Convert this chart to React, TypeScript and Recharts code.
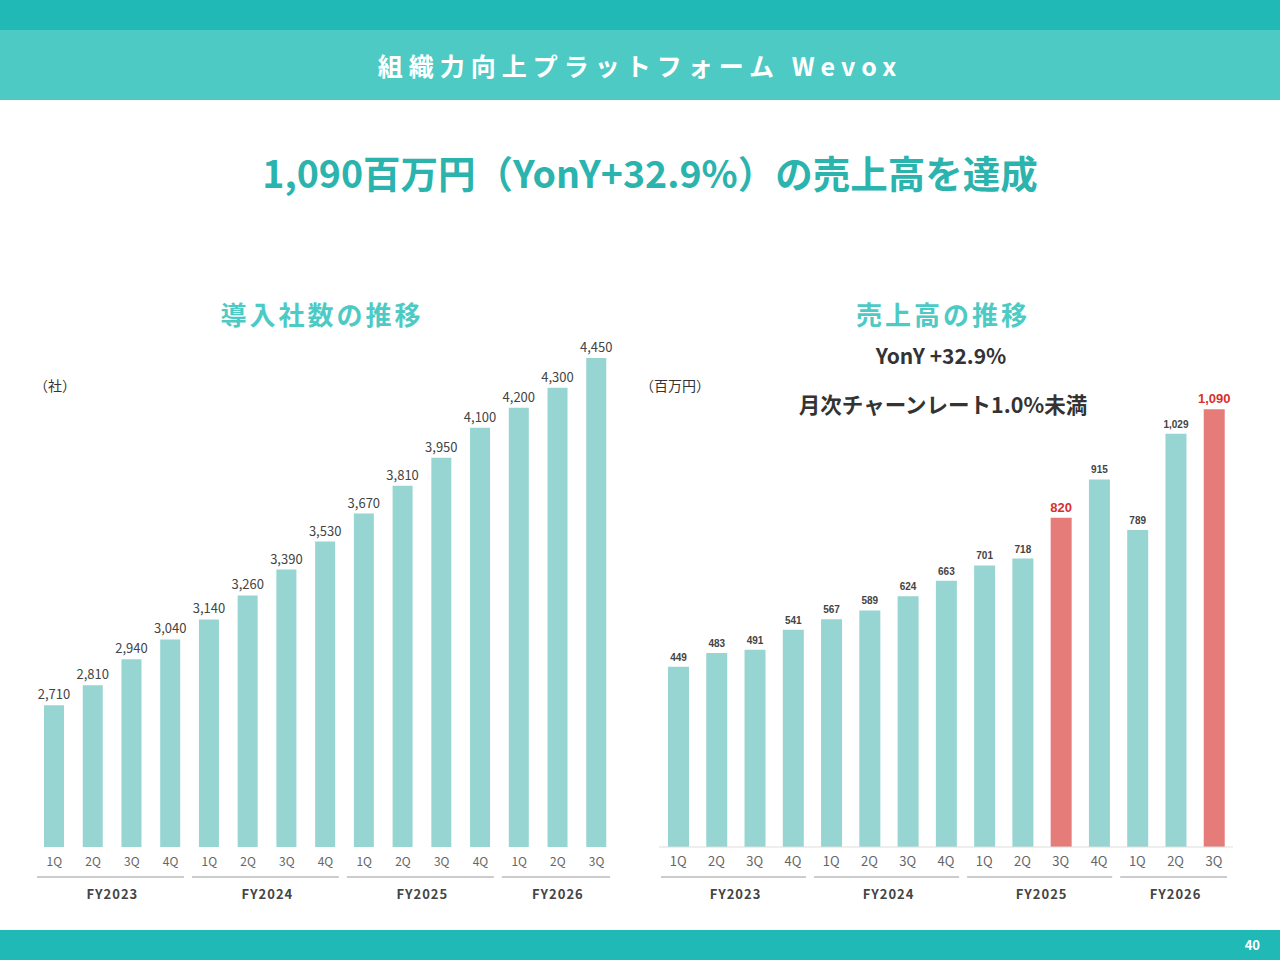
import React from "react";
import { BarChart, Bar, XAxis, YAxis, Cell, LabelList } from "recharts";

const quarters = ["1Q", "2Q", "3Q", "4Q", "1Q", "2Q", "3Q", "4Q", "1Q", "2Q", "3Q", "4Q", "1Q", "2Q", "3Q"];
const fiscalYears = ["FY2023", "FY2023", "FY2023", "FY2023", "FY2024", "FY2024", "FY2024", "FY2024", "FY2025", "FY2025", "FY2025", "FY2025", "FY2026", "FY2026", "FY2026"];
const companies = [2710, 2810, 2940, 3040, 3140, 3260, 3390, 3530, 3670, 3810, 3950, 4100, 4200, 4300, 4450];
const sales = [449, 483, 491, 541, 567, 589, 624, 663, 701, 718, 820, 915, 789, 1029, 1090];
const highlighted = [10, 14];

const FONT = "'Noto Sans CJK JP', 'Noto Sans', sans-serif";
const TEAL = "#96D5D1";
const RED = "#E57C7A";

const makeTick = (step: number, size: number) => (props: any) => {
  const { x, y, payload } = props;
  const i = payload.index;
  const fy = fiscalYears[i];
  const first = i === 0 || fiscalYears[i - 1] !== fy;
  let n = 0;
  while (fiscalYears[i + n] === fy) n++;
  return (
    <g>
      <text x={x} y={y + 11} textAnchor="middle" fontSize={size} fill="#666" fontFamily={FONT}>
        {payload.value}
      </text>
      {first && (
        <>
          <line x1={x - step / 2 + 2} x2={x + step * (n - 0.5) - 6} y1={y + 22} y2={y + 22} stroke="#999" />
          <text x={x + (step * (n - 1)) / 2} y={y + 44} textAnchor="middle" fontSize={13} fontWeight={700} fill="#444" fontFamily={FONT} letterSpacing={1}>
            {fy}
          </text>
        </>
      )}
    </g>
  );
};

const leftData = quarters.map((q, i) => ({ q, v: companies[i] }));
const rightData = quarters.map((q, i) => ({ q, v: sales[i] }));

const RightLabel = (props: any) => {
  const { x, y, width, value, index } = props;
  const hi = highlighted.includes(index);
  return (
    <text x={x + width / 2} y={y - 6} textAnchor="middle" fontSize={hi ? 13 : 10} fontWeight={700} fill={hi ? "#D9302C" : "#444"} fontFamily="Arial, sans-serif">
      {value.toLocaleString("en-US")}
    </text>
  );
};

export default function App() {
  return (
    <div style={{ position: "absolute", left: 0, top: 0, width: 1280, height: 960, background: "#fff", fontFamily: FONT, overflow: "hidden" }}>
      <div style={{ position: "absolute", top: 0, left: 0, width: 1280, height: 30, background: "#20B9B5" }} />
      <div style={{ position: "absolute", top: 30, left: 0, width: 1280, height: 70, background: "#4ECAC5", color: "#fff", fontSize: 25, fontWeight: 700, letterSpacing: 6, display: "flex", alignItems: "center", justifyContent: "center" }}>
        組織力向上プラットフォーム Wevox
      </div>
      <div style={{ position: "absolute", top: 144, left: 0, width: 1300, textAlign: "center", color: "#2BB3AE", fontSize: 37.5, fontWeight: 700 }}>
        1,090百万円（YonY+32.9%）の売上高を達成
      </div>
      <div style={{ position: "absolute", top: 295, left: 122, width: 400, textAlign: "center", color: "#4ECAC5", fontSize: 26, fontWeight: 700, letterSpacing: 3 }}>導入社数の推移</div>
      <div style={{ position: "absolute", top: 295, left: 743, width: 400, textAlign: "center", color: "#4ECAC5", fontSize: 26, fontWeight: 700, letterSpacing: 3 }}>売上高の推移</div>
      <div style={{ position: "absolute", top: 340, left: 741, width: 400, textAlign: "center", color: "#333", fontSize: 21, fontWeight: 700 }}>YonY +32.9%</div>
      <div style={{ position: "absolute", top: 388, left: 743, width: 400, textAlign: "center", color: "#333", fontSize: 21.5, fontWeight: 700 }}>月次チャーンレート1.0%未満</div>
      <div style={{ position: "absolute", top: 375, left: 34, color: "#333", fontSize: 14 }}>（社）</div>
      <div style={{ position: "absolute", top: 375, left: 640, color: "#333", fontSize: 14 }}>（百万円）</div>

      <div style={{ position: "absolute", left: 35, top: 300 }}>
        <BarChart width={581} height={610} data={leftData} margin={{ top: 8, right: 0, bottom: 0, left: 0 }} barSize={20}>
          <XAxis dataKey="q" axisLine={false} tickLine={false} interval={0} height={63} tick={makeTick(581 / 15, 12)} />
          <YAxis hide domain={[2000, 4700]} />
          <Bar dataKey="v" fill={TEAL} isAnimationActive={false}>
            <LabelList dataKey="v" position="top" offset={6} formatter={(v: any) => v.toLocaleString("en-US")} style={{ fontSize: 13, fill: "#444", fontFamily: FONT }} />
          </Bar>
        </BarChart>
      </div>

      <div style={{ position: "absolute", left: 659, top: 300 }}>
        <BarChart width={574} height={610} data={rightData} margin={{ top: 65, right: 0, bottom: 0, left: 0 }} barSize={21}>
          <XAxis dataKey="q" axisLine={{ stroke: "#ddd" }} tickLine={false} interval={0} height={63} tick={makeTick(574 / 15, 13)} />
          <YAxis hide domain={[0, 1200]} />
          <Bar dataKey="v" isAnimationActive={false}>
            {rightData.map((d, i) => (
              <Cell key={i} fill={highlighted.includes(i) ? RED : TEAL} />
            ))}
            <LabelList dataKey="v" content={RightLabel} />
          </Bar>
        </BarChart>
      </div>

      <div style={{ position: "absolute", top: 930, left: 0, width: 1280, height: 30, background: "#20B9B5" }} />
      <div style={{ position: "absolute", top: 935, right: 20, color: "#fff", fontSize: 13, fontWeight: 700 }}>40</div>
    </div>
  );
}
